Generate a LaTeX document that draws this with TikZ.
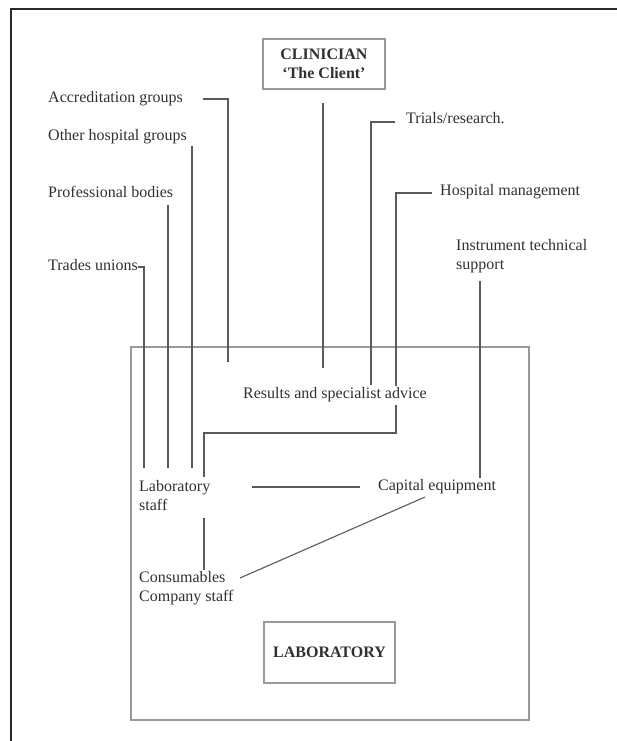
\documentclass[tikz,border=0pt]{standalone}
\usepackage{fontspec}
\setmainfont{Liberation Serif}
\definecolor{txt}{HTML}{303030}
\definecolor{ln}{HTML}{5A5A5A}
\definecolor{bx}{HTML}{9A9A9A}
\definecolor{frm}{HTML}{2A2A2A}
\tikzset{
  lbl/.style={anchor=west, inner sep=0pt, text=txt, font=\fontsize{16}{19}\selectfont, align=left},
  conn/.style={draw=ln, line width=1.1pt},
  boxed/.style={draw=bx, line width=1.6pt, inner sep=0pt, text=txt, font=\fontsize{16}{19}\selectfont\bfseries, align=center}
}
\begin{document}
\begin{tikzpicture}[x=1pt,y=-1pt]
\useasboundingbox (0,0) rectangle (617,741);
% outer frame (top and left only)
\draw[frm, line width=2pt] (11,741) -- (11,9) -- (617,9);
% laboratory area
\draw[bx, line width=1.6pt] (131,347) rectangle (529,720);
% boxes
\node[boxed, minimum width=122pt, minimum height=50pt] (clin) at (324,64) {CLINICIAN\\`The Client'};
\node[boxed, minimum width=131pt, minimum height=61pt] (labbox) at (329.5,652.5) {LABORATORY};
% labels
\node[lbl] (acc) at (48,99) {Accreditation groups};
\node[lbl] (oth) at (48,137) {Other hospital groups};
\node[lbl] (prof) at (48,192) {Professional bodies};
\node[lbl] (trad) at (48,265) {Trades unions};
\node[lbl] (trial) at (406,118) {Trials/research.};
\node[lbl] (hosp) at (440,192) {Hospital management};
\node[lbl] (instr) at (456,256) {Instrument technical\\support};
\node[lbl] (res) at (243,395) {Results and specialist advice};
\node[lbl] (labst) at (139,496) {Laboratory\\staff};
\node[lbl] (cap) at (378,487) {Capital equipment};
\node[lbl] (cons) at (139,588) {Consumables\\Company staff};
% end coordinates
\coordinate (accE) at (228,362);
\coordinate (clinS) at (323,103);
\coordinate (clinE) at (323,368);
\coordinate (trialE) at (371,385);
\coordinate (hospA) at (396,386);
\coordinate (hospB) at (396,405);
\coordinate (hospC) at (204,433);
\coordinate (hospE) at (204,477);
\coordinate (othS) at (192,146);
\coordinate (othE) at (192,468);
\coordinate (profS) at (168,205);
\coordinate (profE) at (168,468);
\coordinate (tradE) at (144,468);
\coordinate (instrS) at (480,281);
\coordinate (instrE) at (480,478);
\coordinate (lcA) at (252,487);
\coordinate (lcB) at (360,487);
\coordinate (lvA) at (204,518);
\coordinate (lvB) at (204,570);
\coordinate (dgA) at (425,497);
\coordinate (dgB) at (240,578);
% connectors
\draw[conn] ([xshift=20pt]acc.east) -| (accE);
\draw[conn] (clinS) -- (clinE);
\draw[conn] ([xshift=-11pt,yshift=-4pt]trial.west) -| (trialE);
\draw[conn] ([xshift=-8pt,yshift=-1pt]hosp.west) -| (hospA);
\draw[conn] (hospB) |- (hospC) -- (hospE);
\draw[conn] (othS) -- (othE);
\draw[conn] (profS) -- (profE);
\draw[conn] ([yshift=-2pt]trad.east) -| (tradE);
\draw[conn] (instrS) -- (instrE);
\draw[conn] (lcA) -- (lcB);
\draw[conn] (lvA) -- (lvB);
\draw[conn] (dgA) -- (dgB);
\end{tikzpicture}
\end{document}
